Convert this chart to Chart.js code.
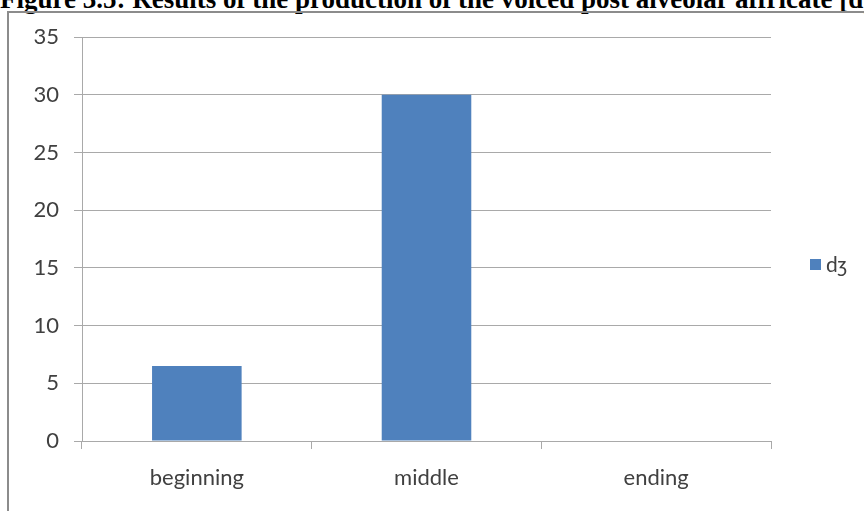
<!DOCTYPE html>
<html>
<head>
<meta charset="utf-8">
<script src="https://cdn.jsdelivr.net/npm/chart.js@4"></script>
<style>
  html, body { margin: 0; padding: 0; background: #fff; overflow: hidden; }
  body { width: 864px; height: 511px; position: relative; }
  .title {
    position: absolute; left: 0; top: -14px; white-space: nowrap;
    font: bold 27px "Liberation Serif", "Times New Roman", serif; line-height: 27px; color: #000;
  }
  .frame {
    position: absolute; left: 7px; top: 11px; width: 900px; height: 600px;
    border: 2px solid #8c8c8c; box-sizing: border-box;
  }
  #wrap { position: absolute; left: 0; top: 0; width: 864px; height: 511px; }
</style>
</head>
<body>
<div class="title">Figure 3.5: Results of the production of the voiced post alveolar affricate [dʒ]</div>
<div class="frame"></div>
<div id="wrap"><canvas id="chart"></canvas></div>
<script>
// positions in the word
const categories = ['beginning', 'middle', 'ending'];
// d3 results per position
const seriesName = 'dʒ';
const seriesValues = [6.5, 30, 0];
const yTicks = [0, 5, 10, 15, 20, 25, 30, 35];

const gridColor = '#a9a9a9';
const textColor = '#404040';
const fontFamily = 'Lato, "Open Sans", sans-serif';

// simple legend to the right of the plot, one entry per dataset
const sideLegend = {
  id: 'sideLegend',
  afterDraw(chart) {
    const c = chart.ctx;
    const area = chart.chartArea;
    chart.data.datasets.forEach((ds, i) => {
      const x = area.right + 39;
      const y = 265 + i * 26;
      c.save();
      c.fillStyle = ds.backgroundColor;
      c.fillRect(x, y - 6, 11, 11);
      c.fillStyle = textColor;
      c.font = '21px ' + fontFamily;
      c.textBaseline = 'middle';
      c.fillText(ds.label, x + 16, y);
      c.restore();
    });
  }
};

const ctx = document.getElementById('chart').getContext('2d');
new Chart(ctx, {
  type: 'bar',
  data: {
    labels: categories,
    datasets: [{
      label: seriesName,
      data: seriesValues,
      backgroundColor: '#4f81bd',
      borderWidth: 0,
      categoryPercentage: 1,
      barPercentage: 0.39
    }]
  },
  options: {
    responsive: true,
    maintainAspectRatio: false,
    animation: false,
    layout: { padding: { top: 37, left: 0, right: 93, bottom: 3.6 } },
    plugins: {
      tooltip: { enabled: false },
      legend: { display: false }
    },
    scales: {
      x: {
        offset: true,
        grid: { offset: true, drawOnChartArea: false, drawTicks: true, tickLength: 8, color: gridColor, lineWidth: 1 },
        border: { color: gridColor, width: 1 },
        ticks: { color: textColor, padding: 16, font: { family: fontFamily, size: 22 } }
      },
      y: {
        min: 0,
        max: 35,
        afterBuildTicks: s => { s.ticks = yTicks.map(v => ({ value: v })); },
        afterFit: s => { s.width = 82; },
        grid: { color: gridColor, lineWidth: 1, tickLength: 8 },
        border: { color: gridColor, width: 1 },
        ticks: { color: textColor, padding: 15, font: { family: fontFamily, size: 22 } }
      }
    }
  },
  plugins: [sideLegend]
});
</script>
</body>
</html>
